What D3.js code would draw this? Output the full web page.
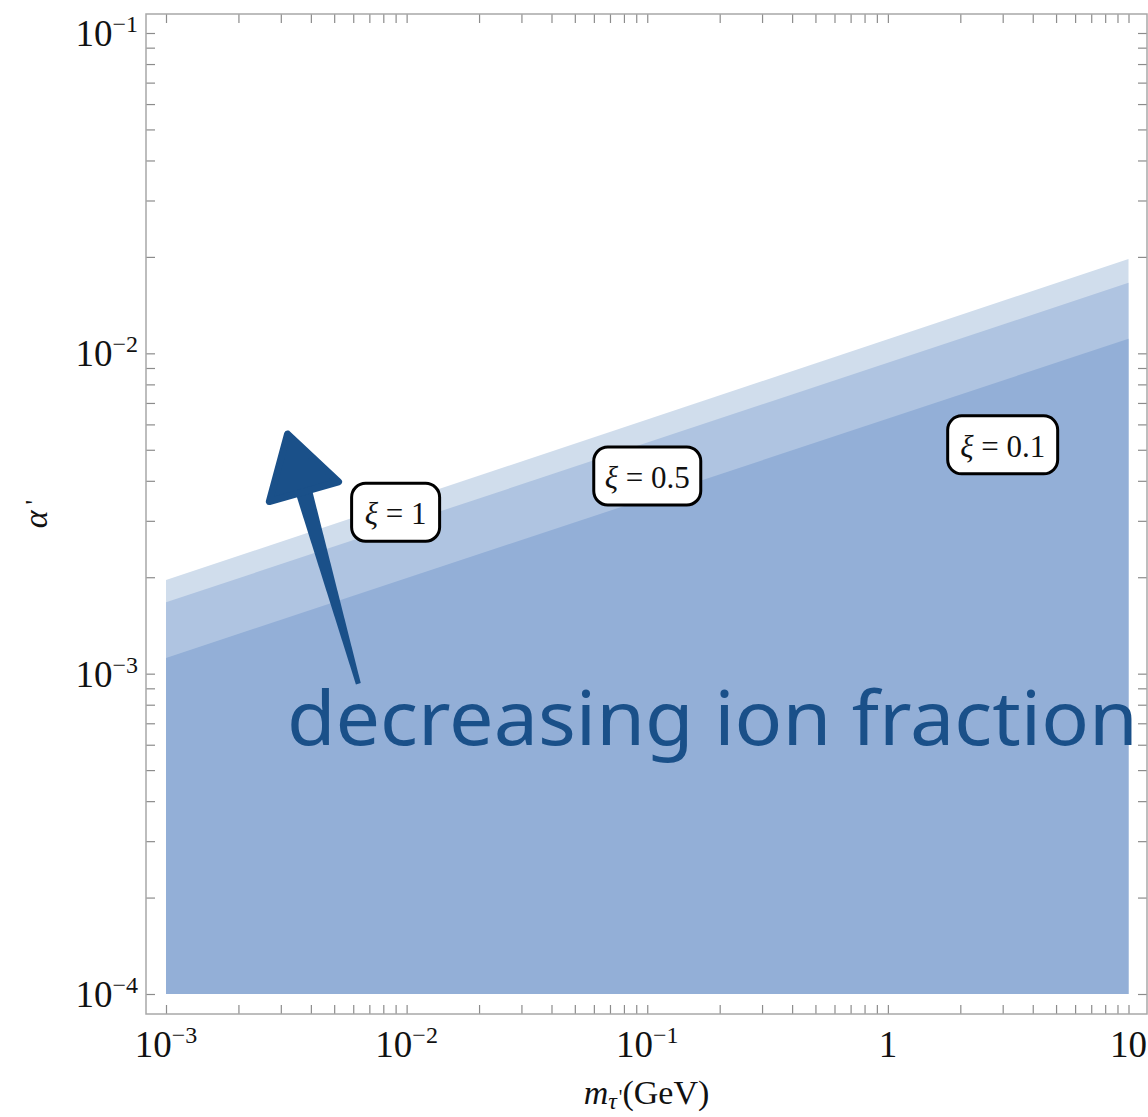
<!DOCTYPE html>
<html>
<head>
<meta charset="utf-8">
<script src="https://cdn.jsdelivr.net/npm/d3@7"></script>
<style>
  html, body { margin: 0; padding: 0; background: #fff; }
  svg { display: block; }
</style>
</head>
<body>
<div id="chart"></div>
<script>
// --- data ---
const masses = [1e-3, 10];                  // m_tau' (GeV), ends of each band
const alphaXi1 = [1.96e-3, 1.97e-2];        // xi = 1
const alphaXi05 = [1.67e-3, 1.66e-2];       // xi = 0.5
const alphaXi01 = [1.12e-3, 1.11e-2];       // xi = 0.1
const alphaFloor = 1e-4;

const xMajor = [1e-3, 1e-2, 1e-1, 1, 10];
const yMajor = [1e-4, 1e-3, 1e-2, 1e-1];
const xMajorLabels = [["10", "−3"], ["10", "−2"], ["10", "−1"], ["1", ""], ["10", ""]];
const yMajorLabels = [["10", "−4"], ["10", "−3"], ["10", "−2"], ["10", "−1"]];

const bandNames = ["ξ = 1", "ξ = 0.5", "ξ = 0.1"];
const bandColors = ["#d0ddec", "#afc4e1", "#93afd7"];
// label anchors (data coords)
const labelMass = [9.0e-3, 0.1, 3.0];
const labelAlpha = [3.19e-3, 4.14e-3, 5.18e-3];

// annotation arrow + note (data coords)
const arrowTail = [6.3e-3, 9.3e-4];
const arrowTip = [3.2e-3, 5.6e-3];
const noteText = "decreasing ion fraction";
const noteAt = [3.18e-3, 5.98e-4];

const W = 1148, H = 1117;
const frame = {left: 146, right: 1147, top: 14, bottom: 1014};

const svg = d3.select("#chart").append("svg")
    .attr("width", W)
    .attr("height", H)
    .attr("viewBox", `0 0 ${W} ${H}`);

const x = d3.scaleLog().domain([1e-3, 10]).range([166, 1128.5]);
const y = d3.scaleLog().domain([1e-4, 1e-1]).range([994, 33]);

// filled regions, lightest first
const area = d3.area()
    .x(d => x(d[0]))
    .y0(y(alphaFloor))
    .y1(d => y(d[1]));

const bands = [alphaXi1, alphaXi05, alphaXi01];
svg.append("g").selectAll("path")
    .data(bands)
    .enter()
    .append("path")
    .attr("d", d => area(masses.map((m, i) => [m, d[i]])))
    .attr("fill", (d, i) => bandColors[i]);

// ticks: majors + minors (2..9 per decade)
function minors(lo, hi) {
  const out = [];
  for (let e = Math.log10(lo); e < Math.log10(hi); e++) {
    for (let k = 1; k <= 9; k++) out.push(k * Math.pow(10, e));
  }
  out.push(hi);
  return out;
}
const xTicks = minors(1e-3, 10);
const yTicks = minors(1e-4, 1e-1);

const tickLen = 9;
function styleAxis(g) {
  g.select(".domain").remove();
  g.selectAll("line").attr("stroke", "#8c8c8c").attr("stroke-width", 1.2);
}
svg.append("g").attr("transform", `translate(0,${frame.bottom})`)
    .call(d3.axisBottom(x).tickValues(xTicks).tickSize(-tickLen).tickFormat(""))
    .call(styleAxis);
svg.append("g").attr("transform", `translate(0,${frame.top})`)
    .call(d3.axisTop(x).tickValues(xTicks).tickSize(-tickLen).tickFormat(""))
    .call(styleAxis);
svg.append("g").attr("transform", `translate(${frame.left},0)`)
    .call(d3.axisLeft(y).tickValues(yTicks).tickSize(-tickLen).tickFormat(""))
    .call(styleAxis);
svg.append("g").attr("transform", `translate(${frame.right},0)`)
    .call(d3.axisRight(y).tickValues(yTicks).tickSize(-tickLen).tickFormat(""))
    .call(styleAxis);

// frame
svg.append("rect")
    .attr("x", frame.left)
    .attr("y", frame.top)
    .attr("width", frame.right - frame.left)
    .attr("height", frame.bottom - frame.top)
    .attr("fill", "none")
    .attr("stroke", "#a8a8a8")
    .attr("stroke-width", 1.5);

const serif = "'Liberation Serif', 'Times New Roman', serif";

function powerLabel(sel, parts) {
  sel.append("tspan").text(parts[0]);
  if (parts[1]) {
    sel.append("tspan")
      .attr("font-size", 24)
      .attr("dy", -14)
      .text(parts[1]);
  }
}

// x tick labels
svg.append("g").selectAll("text")
    .data(xMajor)
    .enter()
    .append("text")
    .attr("x", d => x(d))
    .attr("y", 1057)
    .attr("text-anchor", "middle")
    .attr("font-family", serif)
    .attr("font-size", 37)
    .attr("fill", "#111")
    .each(function(d, i) { powerLabel(d3.select(this), xMajorLabels[i]); });

// y tick labels
svg.append("g").selectAll("text")
    .data(yMajor)
    .enter()
    .append("text")
    .attr("x", 138)
    .attr("y", d => y(d) + 13)
    .attr("text-anchor", "end")
    .attr("font-family", serif)
    .attr("font-size", 37)
    .attr("fill", "#111")
    .each(function(d, i) { powerLabel(d3.select(this), yMajorLabels[i]); });

// axis titles
const xTitle = svg.append("text")
    .attr("x", (frame.left + frame.right) / 2)
    .attr("y", 1104)
    .attr("text-anchor", "middle")
    .attr("font-family", serif)
    .attr("font-size", 34)
    .attr("fill", "#111");
xTitle.append("tspan").attr("font-style", "italic").text("m");
xTitle.append("tspan").attr("font-style", "italic").attr("font-size", 24).attr("dy", 5).text("τ");
xTitle.append("tspan").attr("font-size", 20).attr("dx", 2).attr("dy", -5).text("'");
xTitle.append("tspan").attr("dy", 0).text("(GeV)");

svg.append("text")
    .attr("transform", `translate(47,${(frame.top + frame.bottom) / 2}) rotate(-90)`)
    .attr("text-anchor", "middle")
    .attr("font-family", serif)
    .attr("font-size", 34)
    .attr("fill", "#111")
    .call(t => {
      t.append("tspan").attr("font-style", "italic").text("α");
      t.append("tspan").attr("font-size", 26).attr("dx", 6).attr("dy", -4).text("'");
    });

// band labels in rounded boxes
const boxW = [88, 107, 110], boxH = 58;
const labels = svg.append("g").selectAll("g")
    .data(bandNames)
    .enter()
    .append("g")
    .attr("transform", (d, i) => `translate(${x(labelMass[i])},${y(labelAlpha[i])})`);
labels.append("rect")
    .attr("x", (d, i) => -boxW[i] / 2)
    .attr("y", -boxH / 2)
    .attr("width", (d, i) => boxW[i])
    .attr("height", boxH)
    .attr("rx", 14)
    .attr("fill", "#fff")
    .attr("stroke", "#000")
    .attr("stroke-width", 3);
labels.append("text")
    .attr("y", 12)
    .attr("text-anchor", "middle")
    .attr("font-family", serif)
    .attr("font-size", 31)
    .attr("fill", "#111")
    .each(function(d) {
      const parts = d.split(" = ");
      const t = d3.select(this);
      t.append("tspan").attr("font-style", "italic").text("ξ");
      t.append("tspan").text(" = " + parts[1]);
    });

// arrow
const arrowColor = "#1a5089";
const T = [x(arrowTail[0]), y(arrowTail[1])];
const P = [x(arrowTip[0]), y(arrowTip[1])];
const len = Math.hypot(P[0] - T[0], P[1] - T[1]);
const u = [(P[0] - T[0]) / len, (P[1] - T[1]) / len];
const n = [-u[1], u[0]];
const headL = 60, headW = 36;
const B = [P[0] - u[0] * headL, P[1] - u[1] * headL];
const S = [B[0] + u[0] * 6, B[1] + u[1] * 6];
const pt = (p, s, k) => [p[0] + n[0] * s * k, p[1] + n[1] * s * k];

svg.append("path")
    .attr("d", d3.line()([pt(T, 1, 2.5), pt(S, 1, 8.5), pt(S, -1, 8.5), pt(T, -1, 2.5)]) + "Z")
    .attr("fill", arrowColor);
svg.append("path")
    .attr("d", d3.line()([P, pt(B, 1, headW), pt(B, -1, headW)]) + "Z")
    .attr("fill", arrowColor)
    .attr("stroke", arrowColor)
    .attr("stroke-width", 7)
    .attr("stroke-linejoin", "round");

// handwritten note
svg.append("text")
    .attr("x", x(noteAt[0]))
    .attr("y", y(noteAt[1]))
    .attr("font-family", "'Noto Sans', 'Open Sans', sans-serif")
    .attr("font-size", 74)
    .attr("textLength", 851)
    .attr("lengthAdjust", "spacingAndGlyphs")
    .attr("fill", arrowColor)
    .text(noteText);
</script>
</body>
</html>
